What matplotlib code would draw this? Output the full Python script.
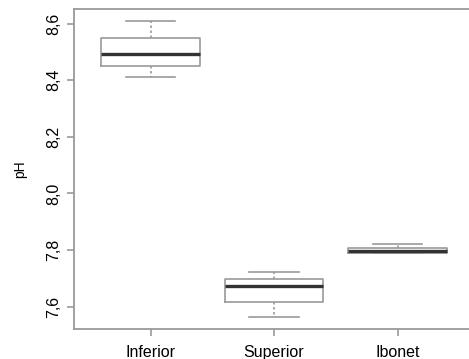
import matplotlib
matplotlib.use('Agg')
import matplotlib.pyplot as plt

plt.rcParams['font.family'] = ['Liberation Sans', 'DejaVu Sans']

# box stats
groups = ['Inferior', 'Superior', 'Ibonet']
whislo = [8.41, 7.564, 7.790]
q1 = [8.450, 7.616, 7.790]
med = [8.492, 7.671, 7.796]
q3 = [8.548, 7.696, 7.806]
whishi = [8.608, 7.721, 7.821]
yticks = [7.6, 7.8, 8.0, 8.2, 8.4, 8.6]

stats = []
for i, g in enumerate(groups):
    stats.append({'label': g, 'whislo': whislo[i], 'q1': q1[i], 'med': med[i],
                  'q3': q3[i], 'whishi': whishi[i], 'fliers': []})

grey = '#9a9a9a'
fig = plt.figure(figsize=(4.69, 3.59), dpi=100)
ax = fig.add_axes([0.1578, 0.0822, 0.853, 0.893])

ax.bxp(stats, positions=[1, 2, 3], widths=0.8, showfliers=False,
       boxprops=dict(color=grey, linewidth=1.2),
       whiskerprops=dict(color=grey, linewidth=1.2, linestyle=(0, (1.5, 1.5))),
       capprops=dict(color=grey, linewidth=1.2),
       medianprops=dict(color='#333333', linewidth=2.4),
       capwidths=0.4)

ax.set_xlim(0.38, 3.62)
ax.set_ylim(7.519, 8.652)
ax.set_yticks(yticks)
ax.set_yticklabels([('%.1f' % v).replace('.', ',') for v in yticks],
                   rotation=90, va='center')
ax.set_xticks([1, 2, 3])
ax.set_xticklabels(groups)
ax.set_ylabel('pH', fontsize=10, labelpad=14)

for s in ax.spines.values():
    s.set_color(grey)
    s.set_linewidth(1.3)
# the right edge of the frame falls outside the picture
ax.spines['right'].set_visible(False)
ax.tick_params(colors=grey, labelcolor='black', labelsize=11.5, length=5, width=1.2)
ax.tick_params(axis='y', pad=4)
ax.tick_params(axis='x', pad=6)

fig.savefig('out.png', dpi=100)
